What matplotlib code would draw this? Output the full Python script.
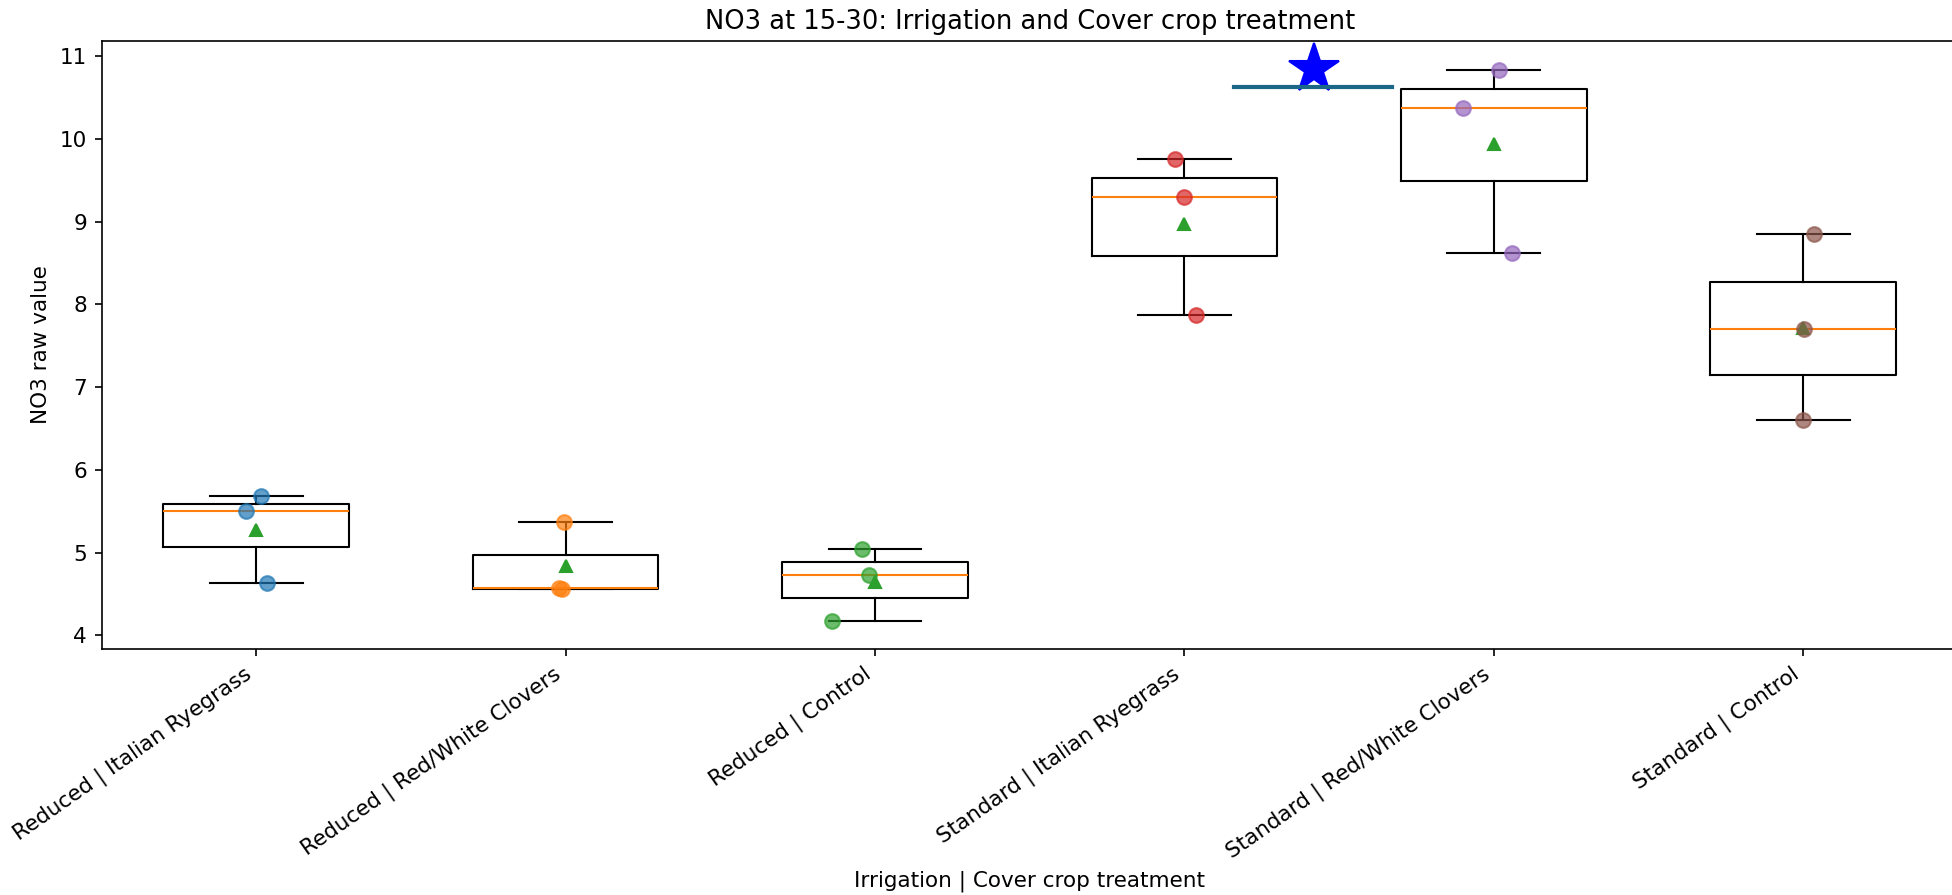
import numpy as np
import matplotlib.pyplot as plt

plt.rcParams['font.size'] = 10.3

# Values
groups = ['Reduced | Italian Ryegrass', 'Reduced | Red/White Clovers', 'Reduced | Control',
          'Standard | Italian Ryegrass', 'Standard | Red/White Clovers', 'Standard | Control']
ri_vals = [5.68, 5.50, 4.63]
rc_vals = [5.37, 4.57, 4.56]
rctl_vals = [5.04, 4.73, 4.17]
si_vals = [9.76, 9.30, 7.87]
sc_vals = [10.84, 10.37, 8.62]
sctl_vals = [8.85, 7.70, 6.60]
# horizontal jitter of the raw points, as seen in the picture
ri_jit = [0.017, -0.034, 0.035]
rc_jit = [-0.004, -0.02, -0.013]
rctl_jit = [-0.043, -0.02, -0.14]
si_jit = [-0.029, 0.0, 0.039]
sc_jit = [0.016, -0.10, 0.06]
sctl_jit = [0.035, 0.004, -0.002]

# significance marker
sig_x = [4.16, 4.67]
sig_y = 10.63
star_x = 4.42
star_y = 10.85

data = [ri_vals, rc_vals, rctl_vals, si_vals, sc_vals, sctl_vals]
jits = [ri_jit, rc_jit, rctl_jit, si_jit, sc_jit, sctl_jit]

fig = plt.figure(figsize=(1952 / 150, 895 / 150), dpi=150)
ax = fig.add_axes([0.052, 0.275, 0.951, 0.679])

ax.boxplot(data, showmeans=True, widths=0.6, tick_labels=groups)

for i, (vals, jit) in enumerate(zip(data, jits)):
    xs = np.full(len(vals), i + 1.0) + np.array(jit)
    ax.scatter(xs, vals, s=50, alpha=0.7, color=f'C{i}', zorder=3)

ax.plot(sig_x, [sig_y, sig_y], color='#1b6788', lw=2)
ax.plot(star_x, star_y, marker='*', color='blue', markersize=25, zorder=1)

ax.set_title('NO3 at 15-30: Irrigation and Cover crop treatment')
ax.set_xlabel('Irrigation | Cover crop treatment')
ax.set_ylabel('NO3 raw value')
plt.setp(ax.get_xticklabels(), rotation=35, ha='right')

fig.savefig('out.png', dpi=150)
